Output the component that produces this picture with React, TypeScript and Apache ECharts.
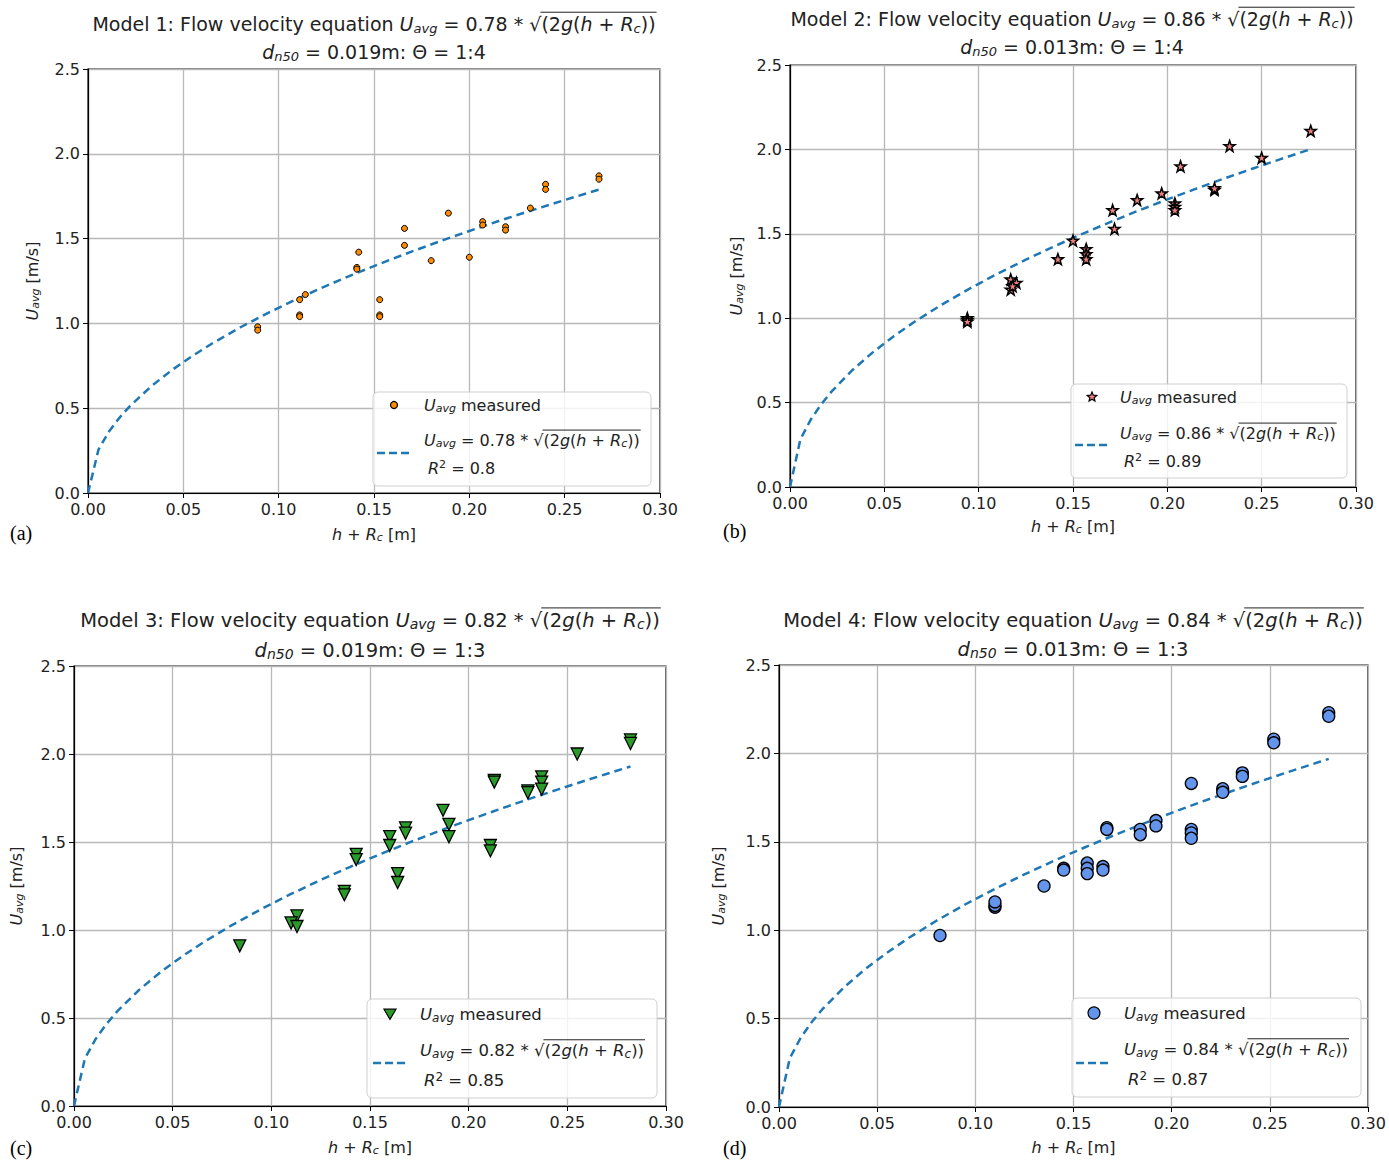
import React, { useEffect, useRef } from "react";
import * as echarts from "echarts";

// ---------- data ----------
const aX = [0.089, 0.089, 0.111, 0.111, 0.111, 0.114, 0.141, 0.141, 0.142, 0.153, 0.153, 0.153, 0.166, 0.166, 0.180, 0.189, 0.200, 0.207, 0.207, 0.219, 0.219, 0.232, 0.240, 0.240, 0.268, 0.268];
const aY = [0.98, 0.96, 1.14, 1.05, 1.04, 1.17, 1.33, 1.32, 1.42, 1.14, 1.05, 1.04, 1.56, 1.46, 1.37, 1.65, 1.39, 1.60, 1.58, 1.57, 1.55, 1.68, 1.82, 1.79, 1.87, 1.85];

const bX = [0.094, 0.094, 0.094, 0.117, 0.120, 0.117, 0.118, 0.142, 0.150, 0.157, 0.157, 0.157, 0.171, 0.172, 0.184, 0.197, 0.204, 0.204, 0.204, 0.207, 0.225, 0.225, 0.233, 0.250, 0.276];
const bY = [1.00, 0.99, 0.98, 1.23, 1.21, 1.17, 1.19, 1.35, 1.46, 1.41, 1.38, 1.35, 1.64, 1.53, 1.70, 1.74, 1.68, 1.66, 1.64, 1.90, 1.76, 1.77, 2.02, 1.95, 2.11];

const cX = [0.084, 0.113, 0.110, 0.113, 0.137, 0.137, 0.143, 0.143, 0.160, 0.160, 0.168, 0.168, 0.164, 0.164, 0.187, 0.190, 0.190, 0.211, 0.211, 0.213, 0.213, 0.230, 0.230, 0.237, 0.237, 0.237, 0.255, 0.282, 0.282];
const cY = [0.91, 1.08, 1.04, 1.02, 1.22, 1.20, 1.43, 1.40, 1.53, 1.48, 1.58, 1.55, 1.32, 1.27, 1.68, 1.60, 1.53, 1.48, 1.45, 1.85, 1.84, 1.79, 1.78, 1.87, 1.84, 1.80, 2.00, 2.08, 2.06];

const dX = [0.082, 0.110, 0.110, 0.110, 0.135, 0.145, 0.145, 0.157, 0.157, 0.157, 0.165, 0.165, 0.167, 0.167, 0.184, 0.184, 0.192, 0.192, 0.210, 0.210, 0.210, 0.210, 0.226, 0.226, 0.236, 0.236, 0.252, 0.252, 0.280, 0.280];
const dY = [0.97, 1.13, 1.14, 1.16, 1.25, 1.35, 1.34, 1.38, 1.35, 1.32, 1.36, 1.34, 1.58, 1.57, 1.57, 1.54, 1.62, 1.59, 1.83, 1.57, 1.55, 1.52, 1.80, 1.78, 1.89, 1.87, 2.08, 2.06, 2.23, 2.21];

// fitted equation U = coef * sqrt(2 g (h + Rc)), evaluated on these h+Rc samples up to each model's last point
const fitCoef = [0.78, 0.86, 0.82, 0.84];
const fitR2 = ["0.8", "0.89", "0.85", "0.87"];
const fitEnd = [0.268, 0.276, 0.282, 0.28];
const fitSampleX = [0, 0.0055, 0.011, 0.0165, 0.022, 0.033, 0.044, 0.055, 0.066, 0.08, 0.095, 0.11, 0.125, 0.14, 0.155, 0.17, 0.185, 0.2, 0.215, 0.23, 0.245, 0.26, 0.275];
const G = 9.81;

const d50 = ["0.019", "0.013", "0.019", "0.013"];
const slope = ["1:4", "1:4", "1:3", "1:3"];
const xTicks = [0, 0.05, 0.1, 0.15, 0.2, 0.25, 0.3];
const yTicks = [0, 0.5, 1.0, 1.5, 2.0, 2.5];

const STAR = "path://M12,0 L14.9,8.3 L23.4,8.3 L16.6,13.5 L19.1,22 L12,16.9 L4.9,22 L7.4,13.5 L0.6,8.3 L9.1,8.3 Z";
const FONT = "DejaVu Sans";
const TXT = "#222";

type Tok = { k: "n" | "it" | "sub" | "sup"; s: string };

const richStyles = (base: number) => {
  const sub = Math.round(base * 0.7);
  return {
    n: { fontSize: base, fontFamily: FONT, fill: TXT, color: TXT },
    it: { fontStyle: "italic", fontSize: base, fontFamily: FONT, fill: TXT, color: TXT },
    sub: { fontStyle: "italic", fontSize: sub, fontFamily: FONT, fill: TXT, color: TXT, verticalAlign: "bottom", padding: [Math.round(base * 0.42), 0, 0, 0] },
    sup: { fontSize: sub, fontFamily: FONT, fill: TXT, color: TXT, verticalAlign: "top", padding: [0, 0, Math.round(base * 0.42), 0] },
  };
};

const toRich = (toks: Tok[]) => toks.map((t) => "{" + t.k + "|" + t.s + "}").join("");

let measureCtx: CanvasRenderingContext2D | null = null;
function tokWidth(t: Tok, base: number) {
  if (!measureCtx) measureCtx = document.createElement("canvas").getContext("2d");
  const size = t.k === "sub" || t.k === "sup" ? Math.round(base * 0.7) : base;
  const italic = t.k === "it" || t.k === "sub";
  measureCtx!.font = (italic ? "italic " : "") + size + 'px "' + FONT + '"';
  return measureCtx!.measureText(t.s).width;
}

// formula tokens; returns tokens and the index where the radicand starts
function formulaToks(coef: number): { toks: Tok[]; rad: number } {
  const toks: Tok[] = [
    { k: "it", s: "U" }, { k: "sub", s: "avg" }, { k: "n", s: " = " + coef.toFixed(2) + " * √" },
    { k: "n", s: "(2" }, { k: "it", s: "g" }, { k: "n", s: "(" }, { k: "it", s: "h" }, { k: "n", s: " + " },
    { k: "it", s: "R" }, { k: "sub", s: "c" }, { k: "n", s: "))" },
  ];
  return { toks, rad: 3 };
}

const panels = [
  { xs: aX, ys: aY, symbol: "circle", size: 6, rotate: 0, color: "#ff8c00", border: 1,
    grid: { left: 88, top: 69, width: 572, height: 424 },
    tx: 374, ty1: 24, ty2: 52, tfs: 19, yGap: 47, xGap: 32, lab: { x: 10, y: 523, t: "(a)" },
    lg: { x: 373, y: 392, w: 278, h: 94, mx: 394, my: 405, ms: 7, tx: 424, d1: 377, d2: 410, dy: 453, fy: 440, rx: 428, ry: 468, fs: 16 } },
  { xs: bX, ys: bY, symbol: STAR, size: 11, rotate: 0, color: "#f08080", border: 1.5,
    grid: { left: 790, top: 65, width: 566, height: 422 },
    tx: 1072, ty1: 19, ty2: 47, tfs: 19, yGap: 45, xGap: 30, lab: { x: 723, y: 521, t: "(b)" },
    lg: { x: 1071, y: 384, w: 276, h: 94, mx: 1092, my: 397, ms: 10, tx: 1120, d1: 1075, d2: 1107, dy: 445, fy: 433, rx: 1124, ry: 461, fs: 16 } },
  { xs: cX, ys: cY, symbol: "triangle", size: 12, rotate: 180, color: "#2a9a2a", border: 1.3,
    grid: { left: 74, top: 666, width: 592, height: 440 },
    tx: 370, ty1: 620, ty2: 650, tfs: 19.5, yGap: 49, xGap: 32, lab: { x: 10, y: 1138, t: "(c)" },
    lg: { x: 367, y: 999, w: 290, h: 99, mx: 390, my: 1014, ms: 12, tx: 420, d1: 373, d2: 405, dy: 1063, fy: 1050, rx: 424, ry: 1080, fs: 16.5 } },
  { xs: dX, ys: dY, symbol: "circle", size: 12, rotate: 0, color: "#6495ed", border: 1.3,
    grid: { left: 779, top: 665, width: 589, height: 442 },
    tx: 1073, ty1: 620, ty2: 649, tfs: 19.5, yGap: 52, xGap: 31, lab: { x: 723, y: 1138, t: "(d)" },
    lg: { x: 1072, y: 998, w: 289, h: 99, mx: 1094, my: 1013, ms: 12, tx: 1124, d1: 1076, d2: 1108, dy: 1063, fy: 1049, rx: 1128, ry: 1079, fs: 16.5 } },
];

function markerShape(i: number, cx: number, cy: number, s: number, color: string, z: number): any {
  const style = { fill: color, stroke: "#000", lineWidth: 1.2 };
  const r = s / 2;
  if (i === 1) {
    const pts: number[][] = [];
    for (let k = 0; k < 10; k++) {
      const a = -Math.PI / 2 + (k * Math.PI) / 5;
      const rr = k % 2 === 0 ? r : r * 0.45;
      pts.push([cx + rr * Math.cos(a), cy + rr * Math.sin(a)]);
    }
    return { type: "polygon", z, shape: { points: pts }, style };
  }
  if (i === 2) {
    return { type: "polygon", z, shape: { points: [[cx - r, cy - r * 0.8], [cx + r, cy - r * 0.8], [cx, cy + r * 0.9]] }, style };
  }
  return { type: "circle", z, shape: { cx, cy, r }, style };
}

function buildOption() {
  const grids: any[] = [];
  const xAxes: any[] = [];
  const yAxes: any[] = [];
  const series: any[] = [];
  const graphics: any[] = [];

  panels.forEach((p, i) => {
    grids.push({ ...p.grid, show: true, borderColor: "#000", borderWidth: 1.2, backgroundColor: "transparent", containLabel: false });
    const axisCommon = {
      axisLine: { show: true, onZero: false, lineStyle: { color: "#000", width: 1.2 } },
      axisTick: { show: true, length: 5, lineStyle: { color: "#000" } },
      splitLine: { show: true, lineStyle: { color: "#b8b8b8", width: 1.3 } },
      nameLocation: "middle",
      nameTextStyle: { fontSize: 16, fontFamily: FONT, color: TXT, rich: richStyles(16) },
    };
    xAxes.push({
      ...axisCommon, type: "value", gridIndex: i, min: xTicks[0], max: xTicks[xTicks.length - 1], interval: 0.05,
      axisLabel: { fontSize: 16, fontFamily: FONT, color: TXT, margin: 8, formatter: (v: number) => v.toFixed(2) },
      name: "{it|h}{n| + }{it|R}{sub|c}{n| [m]}", nameGap: p.xGap,
    });
    yAxes.push({
      ...axisCommon, type: "value", gridIndex: i, min: yTicks[0], max: yTicks[yTicks.length - 1], interval: 0.5,
      axisLabel: { fontSize: 16, fontFamily: FONT, color: TXT, margin: 8, formatter: (v: number) => v.toFixed(1) },
      name: "{it|U}{sub|avg}{n| [m/s]}", nameGap: p.yGap, nameRotate: 90,
    });
    series.push({
      type: "scatter", name: "U_avg measured " + (i + 1), xAxisIndex: i, yAxisIndex: i,
      data: p.xs.map((x, k) => [x, p.ys[k]]),
      symbol: p.symbol, symbolSize: p.size, symbolRotate: p.rotate,
      itemStyle: { color: p.color, borderColor: "#000", borderWidth: p.border, opacity: 1 },
      z: 3,
    });
    const fx = fitSampleX.filter((x) => x < fitEnd[i]).concat([fitEnd[i]]);
    series.push({
      type: "line", name: "fit " + (i + 1), xAxisIndex: i, yAxisIndex: i,
      data: fx.map((x) => [x, fitCoef[i] * Math.sqrt(2 * G * x)]),
      symbol: "none", smooth: false,
      lineStyle: { color: "#1f77b4", width: 2.5, type: [8, 5] },
      itemStyle: { color: "#1f77b4" },
      z: 2,
    });

    // ---- titles ----
    const f = formulaToks(fitCoef[i]);
    const t1: Tok[] = [{ k: "n", s: "Model " + (i + 1) + ": Flow velocity equation " }, ...f.toks];
    const widths = t1.map((t) => tokWidth(t, p.tfs));
    const total = widths.reduce((a, b) => a + b, 0);
    const left = p.tx - total / 2;
    const radStart = left + widths.slice(0, f.rad + 1).reduce((a, b) => a + b, 0);
    graphics.push({
      type: "text", z: 5,
      style: { x: p.tx, y: p.ty1, text: toRich(t1), align: "center", verticalAlign: "middle", fontSize: p.tfs, fontFamily: FONT, fill: TXT, rich: richStyles(p.tfs) },
    });
    graphics.push({
      type: "line", z: 5,
      shape: { x1: radStart - 1, y1: p.ty1 - p.tfs * 0.62, x2: left + total + 1, y2: p.ty1 - p.tfs * 0.62 },
      style: { stroke: TXT, lineWidth: 1 },
    });
    const t2: Tok[] = [{ k: "it", s: "d" }, { k: "sub", s: "n50" }, { k: "n", s: " = " + d50[i] + "m: Θ = " + slope[i] }];
    graphics.push({
      type: "text", z: 5,
      style: { x: p.tx, y: p.ty2, text: toRich(t2), align: "center", verticalAlign: "middle", fontSize: p.tfs, fontFamily: FONT, fill: TXT, rich: richStyles(p.tfs) },
    });

    // ---- legend ----
    const L = p.lg;
    graphics.push({
      type: "rect", z: 8,
      shape: { x: L.x, y: L.y, width: L.w, height: L.h, r: 5 },
      style: { fill: "rgba(255,255,255,0.82)", stroke: "#cfcfcf", lineWidth: 1 },
    });
    graphics.push(markerShape(i, L.mx, L.my, L.ms, p.color, 9));
    graphics.push({
      type: "text", z: 9,
      style: { x: L.tx, y: L.my, text: toRich([{ k: "it", s: "U" }, { k: "sub", s: "avg" }, { k: "n", s: " measured" }]), align: "left", verticalAlign: "middle", fontSize: L.fs, fontFamily: FONT, fill: TXT, rich: richStyles(L.fs) },
    });
    graphics.push({
      type: "line", z: 9,
      shape: { x1: L.d1, y1: L.dy, x2: L.d2, y2: L.dy },
      style: { stroke: "#1f77b4", lineWidth: 2.5, lineDash: [8, 4] },
    });
    const lw = f.toks.map((t) => tokWidth(t, L.fs));
    const ltotal = lw.reduce((a, b) => a + b, 0);
    const lrad = L.tx + lw.slice(0, f.rad).reduce((a, b) => a + b, 0);
    graphics.push({
      type: "text", z: 9,
      style: { x: L.tx, y: L.fy, text: toRich(f.toks), align: "left", verticalAlign: "middle", fontSize: L.fs, fontFamily: FONT, fill: TXT, rich: richStyles(L.fs) },
    });
    graphics.push({
      type: "line", z: 9,
      shape: { x1: lrad - 1, y1: L.fy - L.fs * 0.62, x2: L.tx + ltotal + 1, y2: L.fy - L.fs * 0.62 },
      style: { stroke: TXT, lineWidth: 1 },
    });
    graphics.push({
      type: "text", z: 9,
      style: { x: L.rx, y: L.ry, text: toRich([{ k: "it", s: "R" }, { k: "sup", s: "2" }, { k: "n", s: " = " + fitR2[i] }]), align: "left", verticalAlign: "middle", fontSize: L.fs, fontFamily: FONT, fill: TXT, rich: richStyles(L.fs) },
    });

    // ---- panel letter ----
    graphics.push({
      type: "text", z: 5,
      style: { x: p.lab.x, y: p.lab.y, text: p.lab.t, fontSize: 20, fontFamily: "Liberation Serif", fill: "#000" },
    });
  });

  return {
    animation: false,
    backgroundColor: "#fff",
    grid: grids,
    xAxis: xAxes,
    yAxis: yAxes,
    series,
    graphic: { elements: graphics },
  };
}

export default function App() {
  const ref = useRef<HTMLDivElement>(null);
  useEffect(() => {
    if (!ref.current) return;
    const chart = echarts.init(ref.current, undefined, { renderer: "svg" });
    chart.setOption(buildOption() as any);
    return () => chart.dispose();
  }, []);
  return <div ref={ref} style={{ position: "absolute", left: 0, top: 0, width: 1389, height: 1163 }} />;
}
